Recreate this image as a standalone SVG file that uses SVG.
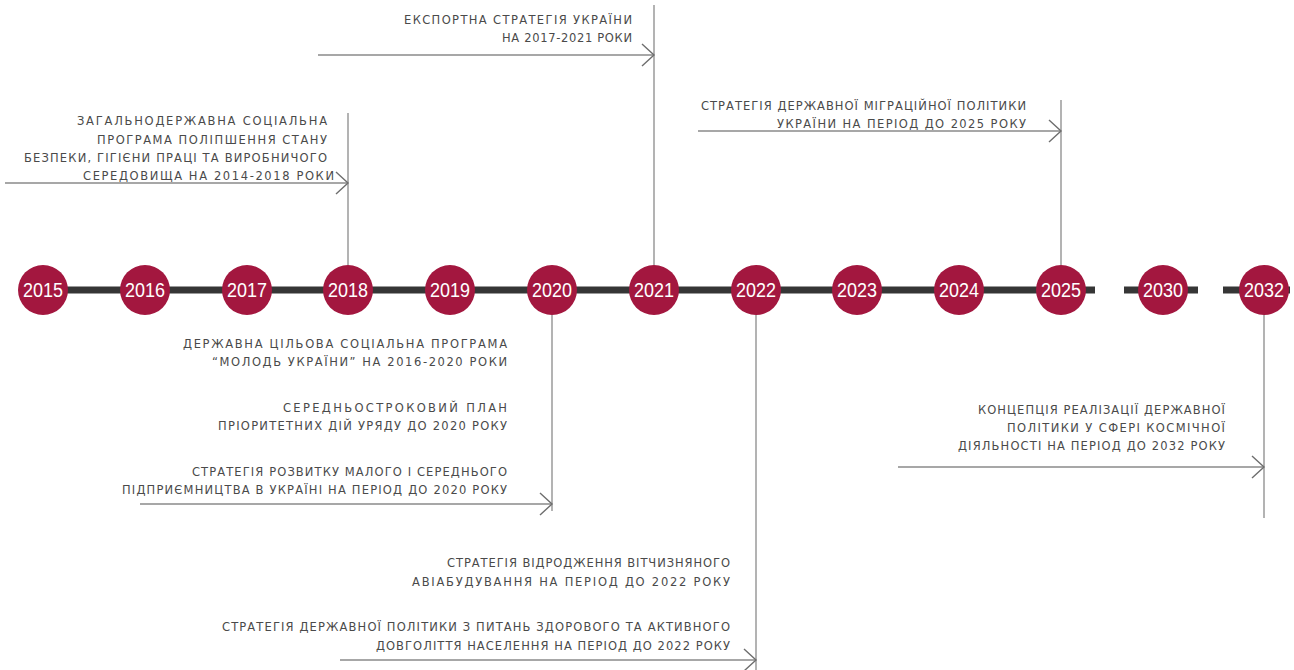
<svg xmlns="http://www.w3.org/2000/svg" width="1294" height="670" viewBox="0 0 1294 670">
<style>
.bg{fill:#ffffff}
.axis{stroke:#363636;stroke-width:7;fill:none}
.yr circle{fill:#a3173f}
.yr text{font-family:"Liberation Sans",Arial,sans-serif;font-size:20px;fill:#ffffff;text-anchor:middle}
.lbl text{font-family:"DejaVu Sans","Liberation Sans",sans-serif;font-size:11.5px;fill:#4a4a4a;text-anchor:end}
.conn line{stroke:#8a8a8a;stroke-width:1.3;fill:none}
.conn .arr{marker-end:url(#chev)}
</style>
<defs>
<marker id="chev" markerUnits="userSpaceOnUse" markerWidth="30" markerHeight="30" viewBox="-15 -15 30 30" refX="0" refY="0" orient="auto">
<path d="M-12,-11 L0,0 L-12,11" fill="none" stroke="#6e6e6e" stroke-width="1.4"/>
</marker>
</defs>
<rect class="bg" x="0" y="0" width="1294" height="670"/>
<g id="connectors" class="conn">
<line x1="348" y1="113" x2="348" y2="265"/>
<line class="arr" x1="5" y1="183" x2="348" y2="183"/>
<line x1="654" y1="5" x2="654" y2="265"/>
<line class="arr" x1="318" y1="55" x2="654" y2="55"/>
<line x1="1061" y1="100" x2="1061" y2="265"/>
<line class="arr" x1="698" y1="131" x2="1061" y2="131"/>
<line x1="552" y1="315" x2="552" y2="511"/>
<line class="arr" x1="140" y1="504" x2="552" y2="504"/>
<line x1="756" y1="315" x2="756" y2="670"/>
<line class="arr" x1="340" y1="660" x2="756" y2="660"/>
<line x1="1264" y1="315" x2="1264" y2="518"/>
<line class="arr" x1="898" y1="467" x2="1264" y2="467"/>
</g>
<g id="timeline">
<line class="axis" x1="43" y1="290" x2="1095" y2="290"/>
<line class="axis" x1="1124" y1="290" x2="1198" y2="290"/>
<line class="axis" x1="1223" y1="290" x2="1290" y2="290"/>
</g>
<g id="y2015" class="yr"><circle cx="43" cy="290" r="25"/><text x="43" y="297" textLength="40" lengthAdjust="spacingAndGlyphs">2015</text></g>
<g id="y2016" class="yr"><circle cx="145" cy="290" r="25"/><text x="145" y="297" textLength="40" lengthAdjust="spacingAndGlyphs">2016</text></g>
<g id="y2017" class="yr"><circle cx="247" cy="290" r="25"/><text x="247" y="297" textLength="40" lengthAdjust="spacingAndGlyphs">2017</text></g>
<g id="y2018" class="yr"><circle cx="348" cy="290" r="25"/><text x="348" y="297" textLength="40" lengthAdjust="spacingAndGlyphs">2018</text></g>
<g id="y2019" class="yr"><circle cx="450" cy="290" r="25"/><text x="450" y="297" textLength="40" lengthAdjust="spacingAndGlyphs">2019</text></g>
<g id="y2020" class="yr"><circle cx="552" cy="290" r="25"/><text x="552" y="297" textLength="40" lengthAdjust="spacingAndGlyphs">2020</text></g>
<g id="y2021" class="yr"><circle cx="654" cy="290" r="25"/><text x="654" y="297" textLength="40" lengthAdjust="spacingAndGlyphs">2021</text></g>
<g id="y2022" class="yr"><circle cx="756" cy="290" r="25"/><text x="756" y="297" textLength="40" lengthAdjust="spacingAndGlyphs">2022</text></g>
<g id="y2023" class="yr"><circle cx="857" cy="290" r="25"/><text x="857" y="297" textLength="40" lengthAdjust="spacingAndGlyphs">2023</text></g>
<g id="y2024" class="yr"><circle cx="959" cy="290" r="25"/><text x="959" y="297" textLength="40" lengthAdjust="spacingAndGlyphs">2024</text></g>
<g id="y2025" class="yr"><circle cx="1061" cy="290" r="25"/><text x="1061" y="297" textLength="40" lengthAdjust="spacingAndGlyphs">2025</text></g>
<g id="y2030" class="yr"><circle cx="1163" cy="290" r="25"/><text x="1163" y="297" textLength="40" lengthAdjust="spacingAndGlyphs">2030</text></g>
<g id="y2032" class="yr"><circle cx="1264" cy="290" r="25"/><text x="1264" y="297" textLength="40" lengthAdjust="spacingAndGlyphs">2032</text></g>
<g id="doc-2018" class="lbl">
<text x="327" y="125" textLength="250">ЗАГАЛЬНОДЕРЖАВНА СОЦІАЛЬНА</text>
<text x="327" y="144" textLength="230">ПРОГРАМА ПОЛІПШЕННЯ СТАНУ</text>
<text x="327" y="162" textLength="303">БЕЗПЕКИ, ГІГІЄНИ ПРАЦІ ТА ВИРОБНИЧОГО</text>
<text x="334" y="180" textLength="251">СЕРЕДОВИЩА НА 2014-2018 РОКИ</text>
</g>
<g id="doc-2021" class="lbl">
<text x="632" y="24" textLength="228">ЕКСПОРТНА СТРАТЕГІЯ УКРАЇНИ</text>
<text x="632" y="42" textLength="130">НА 2017-2021 РОКИ</text>
</g>
<g id="doc-2025" class="lbl">
<text x="1026" y="110" textLength="325">СТРАТЕГІЯ ДЕРЖАВНОЇ МІГРАЦІЙНОЇ ПОЛІТИКИ</text>
<text x="1026" y="128" textLength="249">УКРАЇНИ НА ПЕРІОД ДО 2025 РОКУ</text>
</g>
<g id="doc-2020a" class="lbl">
<text x="507" y="348" textLength="324">ДЕРЖАВНА ЦІЛЬОВА СОЦІАЛЬНА ПРОГРАМА</text>
<text x="507" y="366" textLength="295">“МОЛОДЬ УКРАЇНИ” НА 2016-2020 РОКИ</text>
</g>
<g id="doc-2020b" class="lbl">
<text x="507" y="412" textLength="224">СЕРЕДНЬОСТРОКОВИЙ ПЛАН</text>
<text x="507" y="430" textLength="289">ПРІОРИТЕТНИХ ДІЙ УРЯДУ ДО 2020 РОКУ</text>
</g>
<g id="doc-2020c" class="lbl">
<text x="507" y="476" textLength="315">СТРАТЕГІЯ РОЗВИТКУ МАЛОГО І СЕРЕДНЬОГО</text>
<text x="507" y="494" textLength="385">ПІДПРИЄМНИЦТВА В УКРАЇНІ НА ПЕРІОД ДО 2020 РОКУ</text>
</g>
<g id="doc-2022a" class="lbl">
<text x="730" y="567" textLength="283">СТРАТЕГІЯ ВІДРОДЖЕННЯ ВІТЧИЗНЯНОГО</text>
<text x="730" y="586" textLength="318">АВІАБУДУВАННЯ НА ПЕРІОД ДО 2022 РОКУ</text>
</g>
<g id="doc-2022b" class="lbl">
<text x="730" y="631" textLength="508">СТРАТЕГІЯ ДЕРЖАВНОЇ ПОЛІТИКИ З ПИТАНЬ ЗДОРОВОГО ТА АКТИВНОГО</text>
<text x="730" y="650" textLength="354">ДОВГОЛІТТЯ НАСЕЛЕННЯ НА ПЕРІОД ДО 2022 РОКУ</text>
</g>
<g id="doc-2032" class="lbl">
<text x="1225" y="414" textLength="247">КОНЦЕПЦІЯ РЕАЛІЗАЦІЇ ДЕРЖАВНОЇ</text>
<text x="1225" y="432" textLength="218">ПОЛІТИКИ У СФЕРІ КОСМІЧНОЇ</text>
<text x="1225" y="450" textLength="267">ДІЯЛЬНОСТІ НА ПЕРІОД ДО 2032 РОКУ</text>
</g>
</svg>
